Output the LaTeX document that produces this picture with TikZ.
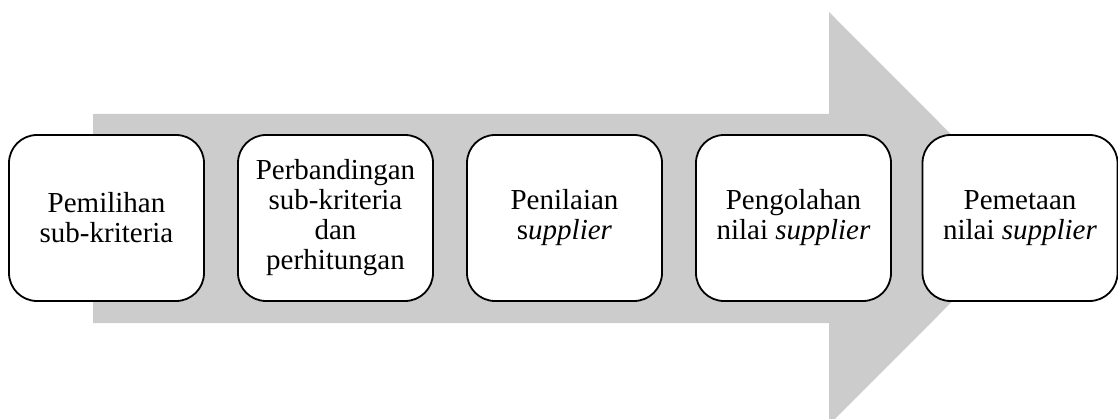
\documentclass[tikz,border=0pt]{standalone}
\usepackage{fontspec}
\setmainfont{Liberation Serif}
\begin{document}
\begin{tikzpicture}[x=1pt,y=1pt,
  stepbox/.style={draw=black, line width=1.8pt, fill=white, rounded corners=28pt,
    minimum width=195pt, minimum height=166pt, align=center, inner sep=0pt,
    font=\fontsize{29}{30}\selectfont},
  flow/.style={fill=black!20, draw=none}]
\useasboundingbox (0,0) rectangle (1118,418);
% broad background arrow
\fill[flow] (93,95) -- (93,304) -- (829,304) -- (829,406) -- (1035,199.5)
  -- (829,-7) -- (829,95) -- cycle;
% process steps
\node[stepbox] (s1) at (106.5,200) {Pemilihan\\sub-kriteria};
\node[stepbox] (s2) at (335.5,200) {Perbandingan\\sub-kriteria\\dan\\perhitungan};
\node[stepbox] (s3) at (564.5,200) {Penilaian\\s\textit{upplier}};
\node[stepbox] (s4) at (793.5,200) {Pengolahan\\nilai \textit{supplier}};
\node[stepbox] (s5) at (1020,200) {Pemetaan\\nilai \textit{supplier}};
\end{tikzpicture}
\end{document}
